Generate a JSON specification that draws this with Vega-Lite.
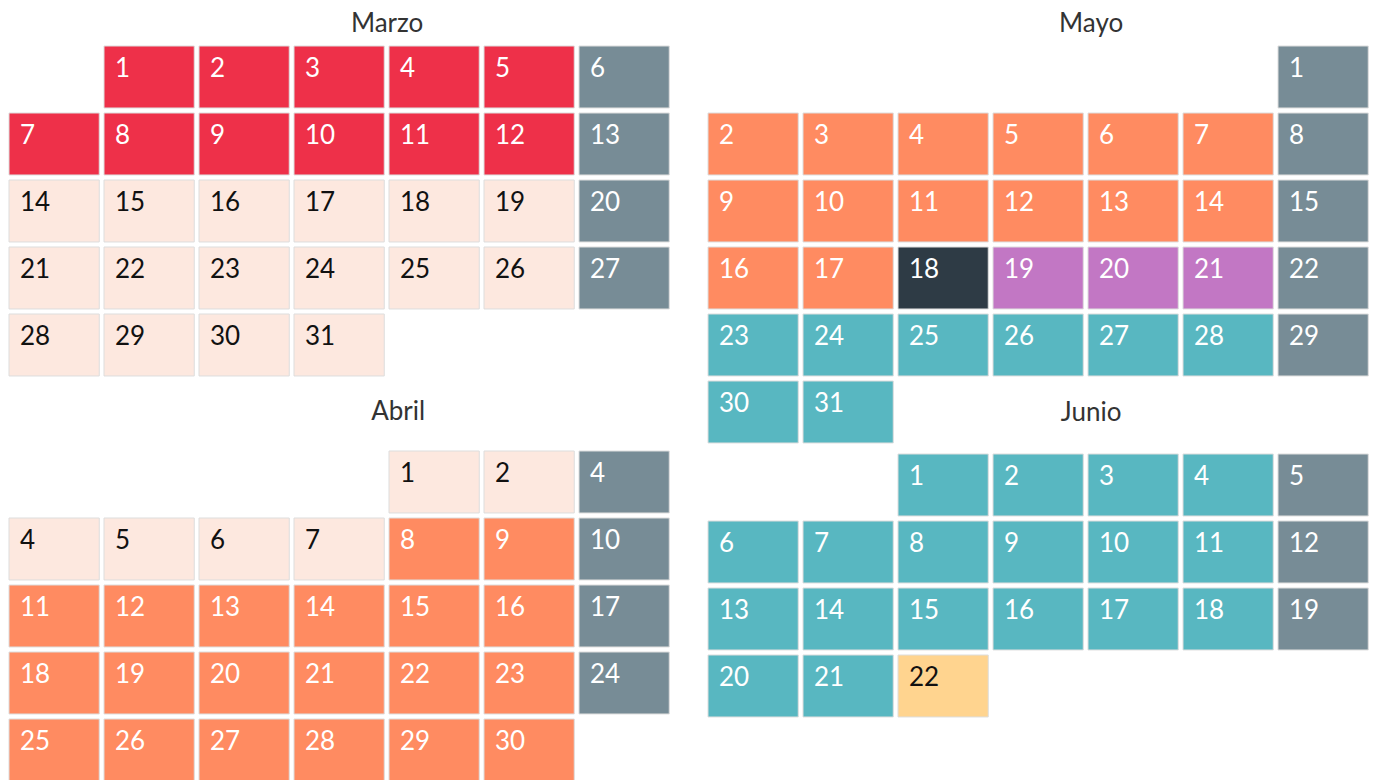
{
  "$schema": "https://vega.github.io/schema/vega-lite/v6.json",
  "padding": {"left": 8, "top": 10, "right": 0, "bottom": 0},
  "background": "white",
  "config": {
    "view": {"stroke": null},
    "font": "Lato",
    "title": {"fontSize": 26, "fontWeight": "normal", "color": "#333333", "font": "Lato"}
  },
  "datasets": {
    "cal": [
      {"m": "Marzo", "d": "1", "wd": 1, "wk": 0, "c": "rojo"},
      {"m": "Marzo", "d": "2", "wd": 2, "wk": 0, "c": "rojo"},
      {"m": "Marzo", "d": "3", "wd": 3, "wk": 0, "c": "rojo"},
      {"m": "Marzo", "d": "4", "wd": 4, "wk": 0, "c": "rojo"},
      {"m": "Marzo", "d": "5", "wd": 5, "wk": 0, "c": "rojo"},
      {"m": "Marzo", "d": "6", "wd": 6, "wk": 0, "c": "domingo"},
      {"m": "Marzo", "d": "7", "wd": 0, "wk": 1, "c": "rojo"},
      {"m": "Marzo", "d": "8", "wd": 1, "wk": 1, "c": "rojo"},
      {"m": "Marzo", "d": "9", "wd": 2, "wk": 1, "c": "rojo"},
      {"m": "Marzo", "d": "10", "wd": 3, "wk": 1, "c": "rojo"},
      {"m": "Marzo", "d": "11", "wd": 4, "wk": 1, "c": "rojo"},
      {"m": "Marzo", "d": "12", "wd": 5, "wk": 1, "c": "rojo"},
      {"m": "Marzo", "d": "13", "wd": 6, "wk": 1, "c": "domingo"},
      {"m": "Marzo", "d": "14", "wd": 0, "wk": 2, "c": "melocoton"},
      {"m": "Marzo", "d": "15", "wd": 1, "wk": 2, "c": "melocoton"},
      {"m": "Marzo", "d": "16", "wd": 2, "wk": 2, "c": "melocoton"},
      {"m": "Marzo", "d": "17", "wd": 3, "wk": 2, "c": "melocoton"},
      {"m": "Marzo", "d": "18", "wd": 4, "wk": 2, "c": "melocoton"},
      {"m": "Marzo", "d": "19", "wd": 5, "wk": 2, "c": "melocoton"},
      {"m": "Marzo", "d": "20", "wd": 6, "wk": 2, "c": "domingo"},
      {"m": "Marzo", "d": "21", "wd": 0, "wk": 3, "c": "melocoton"},
      {"m": "Marzo", "d": "22", "wd": 1, "wk": 3, "c": "melocoton"},
      {"m": "Marzo", "d": "23", "wd": 2, "wk": 3, "c": "melocoton"},
      {"m": "Marzo", "d": "24", "wd": 3, "wk": 3, "c": "melocoton"},
      {"m": "Marzo", "d": "25", "wd": 4, "wk": 3, "c": "melocoton"},
      {"m": "Marzo", "d": "26", "wd": 5, "wk": 3, "c": "melocoton"},
      {"m": "Marzo", "d": "27", "wd": 6, "wk": 3, "c": "domingo"},
      {"m": "Marzo", "d": "28", "wd": 0, "wk": 4, "c": "melocoton"},
      {"m": "Marzo", "d": "29", "wd": 1, "wk": 4, "c": "melocoton"},
      {"m": "Marzo", "d": "30", "wd": 2, "wk": 4, "c": "melocoton"},
      {"m": "Marzo", "d": "31", "wd": 3, "wk": 4, "c": "melocoton"},

      {"m": "Abril", "d": "1", "wd": 4, "wk": 0, "c": "melocoton"},
      {"m": "Abril", "d": "2", "wd": 5, "wk": 0, "c": "melocoton"},
      {"m": "Abril", "d": "4", "wd": 6, "wk": 0, "c": "domingo"},
      {"m": "Abril", "d": "4", "wd": 0, "wk": 1, "c": "melocoton"},
      {"m": "Abril", "d": "5", "wd": 1, "wk": 1, "c": "melocoton"},
      {"m": "Abril", "d": "6", "wd": 2, "wk": 1, "c": "melocoton"},
      {"m": "Abril", "d": "7", "wd": 3, "wk": 1, "c": "melocoton"},
      {"m": "Abril", "d": "8", "wd": 4, "wk": 1, "c": "naranja"},
      {"m": "Abril", "d": "9", "wd": 5, "wk": 1, "c": "naranja"},
      {"m": "Abril", "d": "10", "wd": 6, "wk": 1, "c": "domingo"},
      {"m": "Abril", "d": "11", "wd": 0, "wk": 2, "c": "naranja"},
      {"m": "Abril", "d": "12", "wd": 1, "wk": 2, "c": "naranja"},
      {"m": "Abril", "d": "13", "wd": 2, "wk": 2, "c": "naranja"},
      {"m": "Abril", "d": "14", "wd": 3, "wk": 2, "c": "naranja"},
      {"m": "Abril", "d": "15", "wd": 4, "wk": 2, "c": "naranja"},
      {"m": "Abril", "d": "16", "wd": 5, "wk": 2, "c": "naranja"},
      {"m": "Abril", "d": "17", "wd": 6, "wk": 2, "c": "domingo"},
      {"m": "Abril", "d": "18", "wd": 0, "wk": 3, "c": "naranja"},
      {"m": "Abril", "d": "19", "wd": 1, "wk": 3, "c": "naranja"},
      {"m": "Abril", "d": "20", "wd": 2, "wk": 3, "c": "naranja"},
      {"m": "Abril", "d": "21", "wd": 3, "wk": 3, "c": "naranja"},
      {"m": "Abril", "d": "22", "wd": 4, "wk": 3, "c": "naranja"},
      {"m": "Abril", "d": "23", "wd": 5, "wk": 3, "c": "naranja"},
      {"m": "Abril", "d": "24", "wd": 6, "wk": 3, "c": "domingo"},
      {"m": "Abril", "d": "25", "wd": 0, "wk": 4, "c": "naranja"},
      {"m": "Abril", "d": "26", "wd": 1, "wk": 4, "c": "naranja"},
      {"m": "Abril", "d": "27", "wd": 2, "wk": 4, "c": "naranja"},
      {"m": "Abril", "d": "28", "wd": 3, "wk": 4, "c": "naranja"},
      {"m": "Abril", "d": "29", "wd": 4, "wk": 4, "c": "naranja"},
      {"m": "Abril", "d": "30", "wd": 5, "wk": 4, "c": "naranja"},

      {"m": "Mayo", "d": "1", "wd": 6, "wk": 0, "c": "domingo"},
      {"m": "Mayo", "d": "2", "wd": 0, "wk": 1, "c": "naranja"},
      {"m": "Mayo", "d": "3", "wd": 1, "wk": 1, "c": "naranja"},
      {"m": "Mayo", "d": "4", "wd": 2, "wk": 1, "c": "naranja"},
      {"m": "Mayo", "d": "5", "wd": 3, "wk": 1, "c": "naranja"},
      {"m": "Mayo", "d": "6", "wd": 4, "wk": 1, "c": "naranja"},
      {"m": "Mayo", "d": "7", "wd": 5, "wk": 1, "c": "naranja"},
      {"m": "Mayo", "d": "8", "wd": 6, "wk": 1, "c": "domingo"},
      {"m": "Mayo", "d": "9", "wd": 0, "wk": 2, "c": "naranja"},
      {"m": "Mayo", "d": "10", "wd": 1, "wk": 2, "c": "naranja"},
      {"m": "Mayo", "d": "11", "wd": 2, "wk": 2, "c": "naranja"},
      {"m": "Mayo", "d": "12", "wd": 3, "wk": 2, "c": "naranja"},
      {"m": "Mayo", "d": "13", "wd": 4, "wk": 2, "c": "naranja"},
      {"m": "Mayo", "d": "14", "wd": 5, "wk": 2, "c": "naranja"},
      {"m": "Mayo", "d": "15", "wd": 6, "wk": 2, "c": "domingo"},
      {"m": "Mayo", "d": "16", "wd": 0, "wk": 3, "c": "naranja"},
      {"m": "Mayo", "d": "17", "wd": 1, "wk": 3, "c": "naranja"},
      {"m": "Mayo", "d": "18", "wd": 2, "wk": 3, "c": "oscuro"},
      {"m": "Mayo", "d": "19", "wd": 3, "wk": 3, "c": "morado"},
      {"m": "Mayo", "d": "20", "wd": 4, "wk": 3, "c": "morado"},
      {"m": "Mayo", "d": "21", "wd": 5, "wk": 3, "c": "morado"},
      {"m": "Mayo", "d": "22", "wd": 6, "wk": 3, "c": "domingo"},
      {"m": "Mayo", "d": "23", "wd": 0, "wk": 4, "c": "turquesa"},
      {"m": "Mayo", "d": "24", "wd": 1, "wk": 4, "c": "turquesa"},
      {"m": "Mayo", "d": "25", "wd": 2, "wk": 4, "c": "turquesa"},
      {"m": "Mayo", "d": "26", "wd": 3, "wk": 4, "c": "turquesa"},
      {"m": "Mayo", "d": "27", "wd": 4, "wk": 4, "c": "turquesa"},
      {"m": "Mayo", "d": "28", "wd": 5, "wk": 4, "c": "turquesa"},
      {"m": "Mayo", "d": "29", "wd": 6, "wk": 4, "c": "domingo"},
      {"m": "Mayo", "d": "30", "wd": 0, "wk": 5, "c": "turquesa"},
      {"m": "Mayo", "d": "31", "wd": 1, "wk": 5, "c": "turquesa"},

      {"m": "Junio", "d": "1", "wd": 2, "wk": 0, "c": "turquesa"},
      {"m": "Junio", "d": "2", "wd": 3, "wk": 0, "c": "turquesa"},
      {"m": "Junio", "d": "3", "wd": 4, "wk": 0, "c": "turquesa"},
      {"m": "Junio", "d": "4", "wd": 5, "wk": 0, "c": "turquesa"},
      {"m": "Junio", "d": "5", "wd": 6, "wk": 0, "c": "domingo"},
      {"m": "Junio", "d": "6", "wd": 0, "wk": 1, "c": "turquesa"},
      {"m": "Junio", "d": "7", "wd": 1, "wk": 1, "c": "turquesa"},
      {"m": "Junio", "d": "8", "wd": 2, "wk": 1, "c": "turquesa"},
      {"m": "Junio", "d": "9", "wd": 3, "wk": 1, "c": "turquesa"},
      {"m": "Junio", "d": "10", "wd": 4, "wk": 1, "c": "turquesa"},
      {"m": "Junio", "d": "11", "wd": 5, "wk": 1, "c": "turquesa"},
      {"m": "Junio", "d": "12", "wd": 6, "wk": 1, "c": "domingo"},
      {"m": "Junio", "d": "13", "wd": 0, "wk": 2, "c": "turquesa"},
      {"m": "Junio", "d": "14", "wd": 1, "wk": 2, "c": "turquesa"},
      {"m": "Junio", "d": "15", "wd": 2, "wk": 2, "c": "turquesa"},
      {"m": "Junio", "d": "16", "wd": 3, "wk": 2, "c": "turquesa"},
      {"m": "Junio", "d": "17", "wd": 4, "wk": 2, "c": "turquesa"},
      {"m": "Junio", "d": "18", "wd": 5, "wk": 2, "c": "turquesa"},
      {"m": "Junio", "d": "19", "wd": 6, "wk": 2, "c": "domingo"},
      {"m": "Junio", "d": "20", "wd": 0, "wk": 3, "c": "turquesa"},
      {"m": "Junio", "d": "21", "wd": 1, "wk": 3, "c": "turquesa"},
      {"m": "Junio", "d": "22", "wd": 2, "wk": 3, "c": "amarillo"}
    ]
  },
  "hconcat": [
    {
      "spacing": 21,
      "vconcat": [
        {
          "title": {"text": "Marzo", "dx": 48, "offset": 9},
          "data": {"name": "cal"},
          "transform": [{"filter": "datum.m == 'Marzo'"}],
          "width": {"step": 95},
          "height": {"step": 67},
          "encoding": {
            "x": {"field": "wd", "type": "ordinal", "axis": null, "scale": {"paddingInner": 0.05, "paddingOuter": 0}},
            "y": {"field": "wk", "type": "ordinal", "axis": null, "scale": {"paddingInner": 0.075, "paddingOuter": 0}}
          },
          "layer": [
            {
              "mark": {"type": "rect", "stroke": "#dddddd", "strokeWidth": 1},
              "encoding": {
                "color": {"field": "c", "type": "nominal", "legend": null,
                  "scale": {"domain": ["rojo", "melocoton", "domingo", "naranja", "oscuro", "morado", "turquesa", "amarillo"],
                            "range": ["#EE3049", "#FDE8DF", "#778C96", "#FF8B61", "#2E3B45", "#C277C4", "#58B7C1", "#FFD48F"]}}
              }
            },
            {
              "mark": {"type": "text", "align": "left", "baseline": "middle", "dx": 11, "dy": -8, "fontSize": 26, "font": "Lato"},
              "encoding": {
                "x": {"field": "wd", "type": "ordinal", "bandPosition": 0},
                "text": {"field": "d"},
                "color": {"condition": {"test": "datum.c == 'melocoton' || datum.c == 'amarillo'", "value": "#111111"}, "value": "#ffffff"}
              }
            }
          ]
        },
        {
          "title": {"text": "Abril", "dx": 59, "offset": 26},
          "data": {"name": "cal"},
          "transform": [{"filter": "datum.m == 'Abril'"}],
          "width": {"step": 95},
          "height": {"step": 67},
          "encoding": {
            "x": {"field": "wd", "type": "ordinal", "axis": null, "scale": {"paddingInner": 0.05, "paddingOuter": 0}},
            "y": {"field": "wk", "type": "ordinal", "axis": null, "scale": {"paddingInner": 0.075, "paddingOuter": 0}}
          },
          "layer": [
            {
              "mark": {"type": "rect", "stroke": "#dddddd", "strokeWidth": 1},
              "encoding": {
                "color": {"field": "c", "type": "nominal", "legend": null}
              }
            },
            {
              "mark": {"type": "text", "align": "left", "baseline": "middle", "dx": 11, "dy": -8, "fontSize": 26, "font": "Lato"},
              "encoding": {
                "x": {"field": "wd", "type": "ordinal", "bandPosition": 0},
                "text": {"field": "d"},
                "color": {"condition": {"test": "datum.c == 'melocoton' || datum.c == 'amarillo'", "value": "#111111"}, "value": "#ffffff"}
              }
            }
          ]
        }
      ]
    },
    {
      "spacing": -45,
      "vconcat": [
        {
          "title": {"text": "Mayo", "dx": 53, "offset": 9},
          "data": {"name": "cal"},
          "transform": [{"filter": "datum.m == 'Mayo'"}],
          "width": {"step": 95},
          "height": {"step": 67},
          "encoding": {
            "x": {"field": "wd", "type": "ordinal", "axis": null, "scale": {"paddingInner": 0.05, "paddingOuter": 0}},
            "y": {"field": "wk", "type": "ordinal", "axis": null, "scale": {"paddingInner": 0.075, "paddingOuter": 0}}
          },
          "layer": [
            {
              "mark": {"type": "rect", "stroke": "#dddddd", "strokeWidth": 1},
              "encoding": {
                "color": {"field": "c", "type": "nominal", "legend": null}
              }
            },
            {
              "mark": {"type": "text", "align": "left", "baseline": "middle", "dx": 11, "dy": -8, "fontSize": 26, "font": "Lato"},
              "encoding": {
                "x": {"field": "wd", "type": "ordinal", "bandPosition": 0},
                "text": {"field": "d"},
                "color": {"condition": {"test": "datum.c == 'melocoton' || datum.c == 'amarillo'", "value": "#111111"}, "value": "#ffffff"}
              }
            }
          ]
        },
        {
          "title": {"text": "Junio", "dx": 53, "offset": 28},
          "data": {"name": "cal"},
          "transform": [{"filter": "datum.m == 'Junio'"}],
          "width": {"step": 95},
          "height": {"step": 67},
          "encoding": {
            "x": {"field": "wd", "type": "ordinal", "axis": null, "scale": {"paddingInner": 0.05, "paddingOuter": 0}},
            "y": {"field": "wk", "type": "ordinal", "axis": null, "scale": {"paddingInner": 0.075, "paddingOuter": 0}}
          },
          "layer": [
            {
              "mark": {"type": "rect", "stroke": "#dddddd", "strokeWidth": 1},
              "encoding": {
                "color": {"field": "c", "type": "nominal", "legend": null}
              }
            },
            {
              "mark": {"type": "text", "align": "left", "baseline": "middle", "dx": 11, "dy": -8, "fontSize": 26, "font": "Lato"},
              "encoding": {
                "x": {"field": "wd", "type": "ordinal", "bandPosition": 0},
                "text": {"field": "d"},
                "color": {"condition": {"test": "datum.c == 'melocoton' || datum.c == 'amarillo'", "value": "#111111"}, "value": "#ffffff"}
              }
            }
          ]
        }
      ]
    }
  ],
  "spacing": 37
}
